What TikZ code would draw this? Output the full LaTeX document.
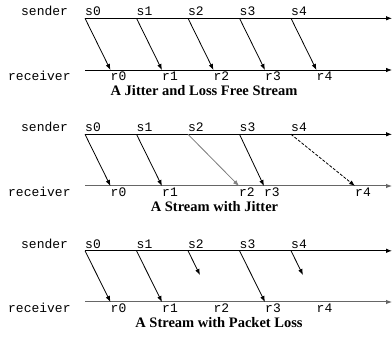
\documentclass[tikz,border=0pt]{standalone}
\usepackage{fontspec}
\setmainfont{Liberation Serif}
\newfontfamily\monof{Liberation Mono}
\usetikzlibrary{arrows.meta}
\begin{document}
\begin{tikzpicture}[x=1pt,y=-1pt,
  lbl/.style={font=\monof\fontsize{13}{15}\selectfont, inner sep=0pt, anchor=base west},
  ttl/.style={font=\bfseries\fontsize{14.5}{16}\selectfont, inner sep=0pt, anchor=base},
  timeline/.style={line width=0.8pt, -{Latex[length=6pt,width=4.5pt]}},
  rline/.style={timeline, draw=black!60, line width=1pt},
  msg/.style={line width=0.8pt, -{Latex[length=6pt,width=4.5pt]}},
  graymsg/.style={msg, draw=black!50, fill=black!50},
  dashmsg/.style={msg, dash pattern=on 3pt off 1.5pt},
]
\useasboundingbox (0,0) rectangle (392,339);

% ---------- Panel 1 ----------
\coordinate (a-sA) at (85,18.3);  \coordinate (a-sB) at (392,18.3);
\coordinate (a-rA) at (85,70);    \coordinate (a-rB) at (392,70);
\draw[timeline] (a-sA) -- (a-sB);
\draw[timeline] (a-rA) -- (a-rB);
\node[lbl] (a-snd) at (21,16) {sender};
\node[lbl] (a-rcv) at (8,81) {receiver};
\foreach \i in {0,...,4}{
  \coordinate (a-s\i) at ({85+51.5*\i},18.3);
  \coordinate (a-r\i) at ({110.5+51.5*\i},70);
  \node[lbl] (a-ls\i) at ({85+51.5*\i},16) {s\i};
  \node[lbl] (a-lr\i) at ({110.5+51.5*\i},81) {r\i};
  \draw[msg] (a-s\i) -- (a-r\i);
}
\node[ttl] (a-t) at (204,95.5) {A Jitter and Loss Free Stream};

% ---------- Panel 2 ----------
\coordinate (b-sA) at (85,134.3);  \coordinate (b-sB) at (392,134.3);
\coordinate (b-rA) at (85,186);    \coordinate (b-rB) at (392,186);
\draw[timeline] (b-sA) -- (b-sB);
\draw[rline] (b-rA) -- (b-rB);
\node[lbl] (b-snd) at (21,132) {sender};
\node[lbl] (b-rcv) at (8,197) {receiver};
\foreach \i/\r in {0/110.5,1/162,2/239,3/264,4/355}{
  \coordinate (b-s\i) at ({85+51.5*\i},134.3);
  \coordinate (b-r\i) at (\r,186);
  \node[lbl] (b-ls\i) at ({85+51.5*\i},132) {s\i};
  \node[lbl] (b-lr\i) at (\r,197) {r\i};
}
\draw[msg] (b-s0) -- (b-r0);
\draw[msg] (b-s1) -- (b-r1);
\draw[graymsg] (b-s2) -- (b-r2);
\draw[msg] (b-s3) -- (b-r3);
\draw[dashmsg] (b-s4) -- (b-r4);
\node[ttl] (b-t) at (214.5,211.5) {A Stream with Jitter};

% ---------- Panel 3 ----------
\coordinate (c-sA) at (85,250.8);  \coordinate (c-sB) at (392,250.8);
\coordinate (c-rA) at (85,302);    \coordinate (c-rB) at (392,302);
\draw[timeline] (c-sA) -- (c-sB);
\draw[rline] (c-rA) -- (c-rB);
\node[lbl] (c-snd) at (21,248.5) {sender};
\node[lbl] (c-rcv) at (8,313) {receiver};
\foreach \i in {0,...,4}{
  \coordinate (c-s\i) at ({85+51.5*\i},250.8);
  \coordinate (c-r\i) at ({110.5+51.5*\i},302);
  \node[lbl] (c-ls\i) at ({85+51.5*\i},248.5) {s\i};
  \node[lbl] (c-lr\i) at ({110.5+51.5*\i},313) {r\i};
}
\coordinate (c-x2) at (200,275);
\coordinate (c-x4) at (303,275);
\draw[msg] (c-s0) -- (c-r0);
\draw[msg] (c-s1) -- (c-r1);
\draw[msg] (c-s2) -- (c-x2);
\draw[msg] (c-s3) -- (c-r3);
\draw[msg] (c-s4) -- (c-x4);
\node[ttl] (c-t) at (219,328) {A Stream with Packet Loss};
\end{tikzpicture}
\end{document}
